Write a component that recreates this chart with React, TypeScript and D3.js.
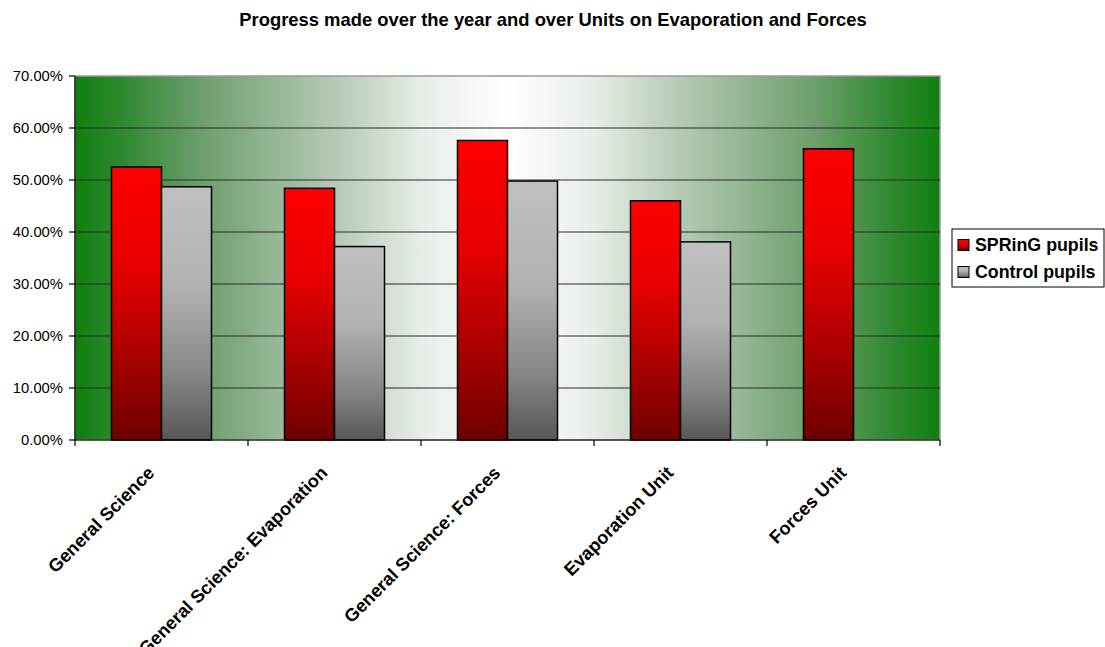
import * as d3 from 'd3';

const categories = [
  'General Science',
  'General Science: Evaporation',
  'General Science: Forces',
  'Evaporation Unit',
  'Forces Unit',
];
const seriesNames = ['SPRinG pupils', 'Control pupils'];
const springValues = [0.525, 0.484, 0.576, 0.46, 0.56];
const controlValues = [0.487, 0.372, 0.498, 0.381, null];
const yTicks = [0, 0.1, 0.2, 0.3, 0.4, 0.5, 0.6, 0.7];

const width = 1105;
const height = 647;
const margin = { left: 75, right: 165, top: 76, bottom: 207 };
const font = 'Arial, "Liberation Sans", sans-serif';

export default function App() {
  const plotW = width - margin.left - margin.right;
  const plotH = height - margin.top - margin.bottom;

  const x0 = d3
    .scaleBand<string>()
    .domain(categories)
    .range([margin.left, margin.left + plotW])
    .paddingInner(0.422)
    .paddingOuter(0.211);
  const x1 = d3
    .scaleBand<string>()
    .domain(seriesNames)
    .range([0, x0.bandwidth()]);
  const y = d3
    .scaleLinear()
    .domain([0, 0.7])
    .range([margin.top + plotH, margin.top]);

  const step = x0.step();
  const fmt = (v: number) => (v * 100).toFixed(2) + '%';
  const series = [
    { name: seriesNames[0], values: springValues, fill: 'url(#redGrad)' },
    { name: seriesNames[1], values: controlValues, fill: 'url(#grayGrad)' },
  ];

  // category boundaries for x ticks
  const boundaries = d3.range(categories.length + 1).map((i) => margin.left + i * step);

  return (
    <svg
      width={width}
      height={height}
      style={{ position: 'absolute', left: 0, top: 0, background: '#fff' }}
      fontFamily={font}
    >
      <defs>
        <linearGradient id="bgGrad" x1="0" x2="1" y1="0" y2="0">
          <stop offset="0" stopColor="#0f7f0f" />
          <stop offset="0.05" stopColor="#2c882c" />
          <stop offset="0.15" stopColor="#6fa06f" />
          <stop offset="0.3" stopColor="#b5c9b5" />
          <stop offset="0.4" stopColor="#e6ede6" />
          <stop offset="0.5" stopColor="#ffffff" />
          <stop offset="0.6" stopColor="#e6ede6" />
          <stop offset="0.7" stopColor="#b5c9b5" />
          <stop offset="0.85" stopColor="#6fa06f" />
          <stop offset="0.95" stopColor="#2c882c" />
          <stop offset="1" stopColor="#0f7f0f" />
        </linearGradient>
        <linearGradient id="redGrad" x1="0" x2="0" y1="0" y2="1">
          <stop offset="0" stopColor="#ff0000" />
          <stop offset="0.35" stopColor="#e80000" />
          <stop offset="0.7" stopColor="#a80000" />
          <stop offset="1" stopColor="#6e0000" />
        </linearGradient>
        <linearGradient id="grayGrad" x1="0" x2="0" y1="0" y2="1">
          <stop offset="0" stopColor="#c0c0c0" />
          <stop offset="0.4" stopColor="#b2b2b2" />
          <stop offset="0.75" stopColor="#858585" />
          <stop offset="1" stopColor="#575757" />
        </linearGradient>
      </defs>

      <text
        x={553}
        y={26}
        textAnchor="middle"
        fontSize={18.4}
        fontWeight="bold"
      >
        Progress made over the year and over Units on Evaporation and Forces
      </text>

      {/* plot area */}
      <rect
        x={margin.left}
        y={margin.top}
        width={plotW}
        height={plotH}
        fill="url(#bgGrad)"
        stroke="#9a9a9a"
        strokeWidth={1.5}
      />

      {/* gridlines */}
      {yTicks
        .filter((t) => t > 0 && t < 0.7)
        .map((t) => (
          <line
            key={t}
            x1={margin.left}
            x2={margin.left + plotW}
            y1={y(t)}
            y2={y(t)}
            stroke="#2a2a2a"
            strokeWidth={1.2}
          />
        ))}

      {/* bars */}
      {series.map((s) =>
        s.values.map((v, i) =>
          v == null ? null : (
            <rect
              key={s.name + i}
              x={(x0(categories[i]) || 0) + (x1(s.name) || 0)}
              y={y(v)}
              width={x1.bandwidth()}
              height={y(0) - y(v)}
              fill={s.fill}
              stroke="#000"
              strokeWidth={1.5}
            />
          )
        )
      )}

      {/* axes */}
      <line x1={margin.left} x2={margin.left} y1={margin.top} y2={y(0)} stroke="#000" strokeWidth={1.2} />
      <line x1={margin.left} x2={margin.left + plotW} y1={y(0)} y2={y(0)} stroke="#000" strokeWidth={1.2} />
      {yTicks.map((t) => (
        <g key={t}>
          <line x1={margin.left - 6} x2={margin.left} y1={y(t)} y2={y(t)} stroke="#000" strokeWidth={1.2} />
          <text x={margin.left - 12} y={y(t)} dy="0.35em" textAnchor="end" fontSize={14.8}>
            {fmt(t)}
          </text>
        </g>
      ))}
      {boundaries.map((b) => (
        <line key={b} x1={b} x2={b} y1={y(0)} y2={y(0) + 6} stroke="#000" strokeWidth={1.2} />
      ))}
      {categories.map((c) => (
        <text
          key={c}
          transform={`translate(${(x0(c) || 0) + x0.bandwidth() / 2 - 6},474) rotate(-45)`}
          textAnchor="end"
          fontSize={18.2}
          fontWeight="bold"
        >
          {c}
        </text>
      ))}

      {/* legend */}
      <rect x={952} y={229} width={152} height={58} fill="#fff" stroke="#000" strokeWidth={1} />
      {series.map((s, i) => (
        <g key={s.name} transform={`translate(958,${245 + i * 27})`}>
          <rect x={0} y={-5.5} width={11} height={11} fill={s.fill} stroke="#000" strokeWidth={1} />
          <text x={17} y={0} dy="0.35em" fontSize={17.8} fontWeight="bold">
            {s.name}
          </text>
        </g>
      ))}
    </svg>
  );
}
